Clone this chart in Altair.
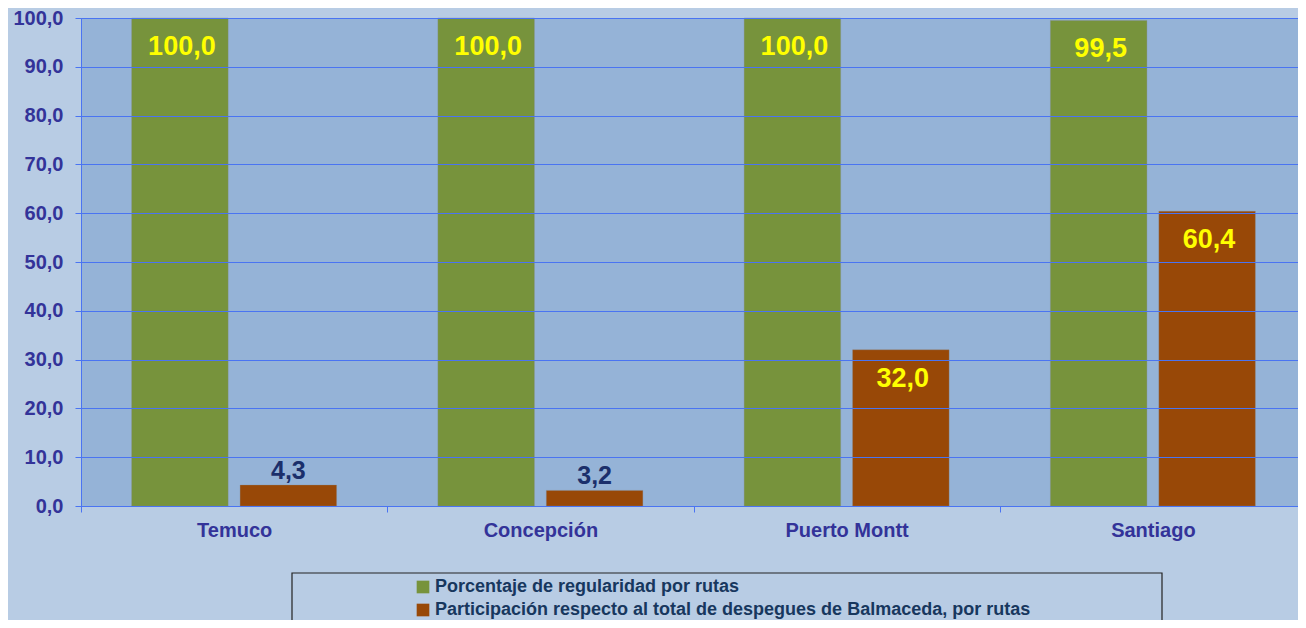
import altair as alt
import pandas as pd

categories = ["Temuco", "Concepción", "Puerto Montt", "Santiago"]
series = [
    "Porcentaje de regularidad por rutas",
    "Participación respecto al total de despegues de Balmaceda, por rutas",
]
regularidad = [100.0, 100.0, 100.0, 99.5]
participacion = [4.3, 3.2, 32.0, 60.4]
colors = ["#77933C", "#984807"]
y_ticks = [0, 10, 20, 30, 40, 50, 60, 70, 80, 90, 100]

rows = []
for i, c in enumerate(categories):
    for s, vals in zip(series, [regularidad, participacion]):
        v = vals[i]
        rows.append({
            "cat": c,
            "serie": s,
            "valor": v,
            "label": f"{v:.1f}".replace(".", ","),
            "inside": bool(v > 10),
        })
df = pd.DataFrame(rows)

FONT = "Liberation Sans, Arial"
AXIS_COL = "#333399"
GRID_COL = "#4A74F2"

x_enc = alt.X(
    "cat:N",
    sort=categories,
    scale=alt.Scale(paddingInner=0, paddingOuter=0),
    axis=alt.Axis(
        title=None,
        labelAngle=0,
        tickBand="extent",
        tickSize=6,
        tickColor=GRID_COL,
        domainColor=GRID_COL,
        labelFont=FONT,
        labelFontSize=20,
        labelFontWeight="bold",
        labelColor=AXIS_COL,
        labelPadding=8,
        zindex=1,
    ),
)
xo_enc = alt.XOffset(
    "serie:N", sort=series, scale=alt.Scale(paddingInner=0.11, paddingOuter=0.467)
)
y_enc = alt.Y(
    "valor:Q",
    scale=alt.Scale(domain=[0, 100], nice=False),
    axis=alt.Axis(
        title=None,
        values=y_ticks,
        labelExpr="replace(format(datum.value, '.1f'), '.', ',')",
        grid=True,
        gridColor=GRID_COL,
        gridWidth=1,
        tickSize=6,
        tickColor=GRID_COL,
        domainColor=GRID_COL,
        labelFont=FONT,
        labelFontSize=20,
        labelFontWeight="bold",
        labelColor=AXIS_COL,
        labelPadding=12,
        zindex=1,
    ),
)

base = alt.Chart(df)

bars = base.mark_bar(stroke="#8a8a8a", strokeWidth=0.5, strokeOpacity=0.6).encode(
    x=x_enc,
    xOffset=xo_enc,
    y=y_enc,
    color=alt.Color(
        "serie:N",
        sort=series,
        scale=alt.Scale(domain=series, range=colors),
        legend=alt.Legend(
            title=None,
            orient="none",
            legendX=333,
            legendY=560,
            direction="vertical",
            symbolType="square",
            symbolSize=160,
            symbolStrokeWidth=0,
            labelFont=FONT,
            labelFontSize=18,
            labelFontWeight="bold",
            labelColor="#17375E",
            labelOffset=3,
            labelLimit=1000,
            rowPadding=5,
            padding=0,
        ),
    ),
)

inside = base.transform_filter("datum.inside").mark_text(
    font=FONT, fontSize=27, fontWeight="bold", color="#FFFF00",
    baseline="middle", dy=29, dx=2,
).encode(x=alt.X("cat:N", sort=categories), xOffset=alt.XOffset("serie:N", sort=series),
         y="valor:Q", text="label:N")

outside = base.transform_filter("!datum.inside").mark_text(
    font=FONT, fontSize=25, fontWeight="bold", color="#1B2F6B",
    baseline="middle", dy=-14,
).encode(x=alt.X("cat:N", sort=categories), xOffset=alt.XOffset("serie:N", sort=series),
         y="valor:Q", text="label:N")

box = alt.Chart(pd.DataFrame({"k": [0]})).mark_rect(
    fillOpacity=0, stroke="#222222", strokeWidth=1.2
).encode(x=alt.value(211), x2=alt.value(1081), y=alt.value(555), y2=alt.value(720))

chart = alt.layer(bars, inside, outside, box).properties(
    width=1225,
    height=488,
    padding={"left": 73, "top": 10, "right": -8, "bottom": 114},
    autosize=alt.AutoSizeParams(type="none"),
).configure(background="#B8CCE4").configure_view(fill="#95B3D7", stroke="#808080")

chart.save("out.html", embed_options={"renderer": "svg", "actions": False})
